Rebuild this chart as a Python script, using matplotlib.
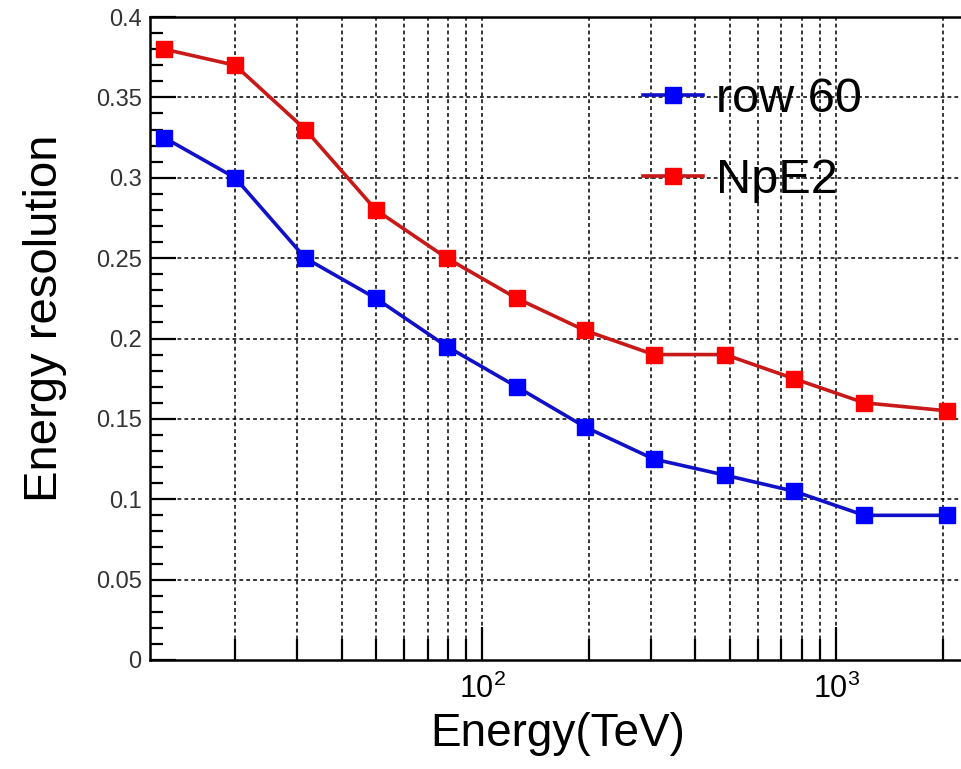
import matplotlib
matplotlib.use("Agg")
import matplotlib.pyplot as plt
from matplotlib import font_manager
from matplotlib.ticker import FixedLocator, NullFormatter, FixedFormatter
import numpy as np

# ---------------------------------------------------------------------
# Data
# ---------------------------------------------------------------------
energy = [12.6, 20.0, 31.6, 50.0, 79.4, 125.0, 195.0, 305.0, 485.0, 760.0, 1200.0, 2060.0]
res_row60 = [0.325, 0.300, 0.250, 0.225, 0.195, 0.170, 0.145, 0.125, 0.115, 0.105, 0.090, 0.090]
res_npe2 = [0.380, 0.370, 0.330, 0.280, 0.250, 0.225, 0.205, 0.190, 0.190, 0.175, 0.160, 0.155]
series_labels = ["row 60", "NpE2"]
y_ticks = [0, 0.05, 0.1, 0.15, 0.2, 0.25, 0.3, 0.35, 0.4]
y_ticklabels = ["0", "0.05", "0.1", "0.15", "0.2", "0.25", "0.3", "0.35", "0.4"]
x_major = [100, 1000]
x_majorlabels = ["$10^{2}$", "$10^{3}$"]


def pick_font():
    for name in ["Liberation Sans Narrow", "Liberation Sans", "DejaVu Sans"]:
        try:
            font_manager.findfont(name, fallback_to_default=False)
            return name
        except Exception:
            continue
    return "DejaVu Sans"


FONT = pick_font()
plt.rcParams["font.family"] = FONT
plt.rcParams["mathtext.fontset"] = "custom"
plt.rcParams["mathtext.rm"] = FONT
plt.rcParams["mathtext.it"] = FONT

W, H = 961, 769
fig = plt.figure(figsize=(W / 100, H / 100), dpi=100)
ax = fig.add_axes([150 / W, (H - 660) / H, (965 - 150) / W, (660 - 17) / H])

ax.set_xscale("log")
ax.set_xlim(11.5, 2312)
ax.set_ylim(0, 0.4)

# grid lines (ROOT style dotted) at every x tick and at major y ticks
x_minor = [v * d for d in (10, 100, 1000) for v in range(2, 10) if 11.5 < v * d < 2312]
x_all = sorted(x_minor + x_major)
grid_kw = dict(color="black", lw=1.1, ls=(0, (2.5, 2.0)), zorder=1)
for xv in x_all:
    ax.axvline(xv, **grid_kw)
for yv in y_ticks[1:-1]:
    ax.axhline(yv, **grid_kw)

ax.plot(energy, res_row60, color="#1010c8", lw=2.6, marker="s", ms=11.5,
        mfc="#0000ff", mec="#0000ff", label=series_labels[0], zorder=3)
ax.plot(energy, res_npe2, color="#c81818", lw=2.6, marker="s", ms=11.5,
        mfc="#ff0000", mec="#ff0000", label=series_labels[1], zorder=3)

# ticks
ax.xaxis.set_major_locator(FixedLocator(x_major))
ax.xaxis.set_major_formatter(FixedFormatter(x_majorlabels))
ax.xaxis.set_minor_locator(FixedLocator(x_minor))
ax.xaxis.set_minor_formatter(NullFormatter())
ax.yaxis.set_major_locator(FixedLocator(y_ticks))
ax.yaxis.set_major_formatter(FixedFormatter(y_ticklabels))
ax.yaxis.set_minor_locator(FixedLocator(np.arange(0, 0.4001, 0.01)))
ax.tick_params(axis="both", which="both", direction="in", color="black", width=1.6)
ax.tick_params(axis="y", which="major", length=19, labelsize=17, pad=6,
               labelcolor="#333333")
ax.tick_params(axis="y", which="minor", length=9.5)
ax.tick_params(axis="x", which="major", length=24, labelsize=22, pad=10)
ax.tick_params(axis="x", which="minor", length=15)
ax.tick_params(top=False, right=False, which="both")

for s in ax.spines.values():
    s.set_linewidth(1.8)

ax.set_xlabel("Energy(TeV)", fontsize=33, labelpad=5)
ax.set_ylabel("Energy resolution", fontsize=34)
ax.yaxis.set_label_coords((67 - 150) / 815, (660 - 318) / 643)

leg = ax.legend(loc="upper left", bbox_to_anchor=(643 / W, 1 - 77 / H),
                bbox_transform=fig.transFigure, frameon=False, fontsize=35,
                handlelength=1.23, handletextpad=0.27, labelspacing=0.75,
                borderaxespad=0, borderpad=0)

fig.savefig("out.png", dpi=100)
